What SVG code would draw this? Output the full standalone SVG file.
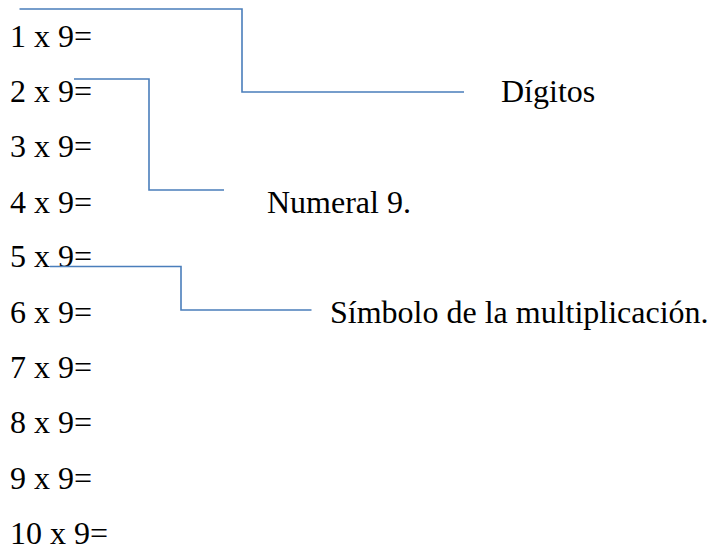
<svg xmlns="http://www.w3.org/2000/svg" width="713" height="547" viewBox="0 0 713 547">
<style>
text{font-family:"Liberation Serif","Times New Roman",serif;font-size:32px;fill:#000}
.c{fill:none;stroke:#4A7EBB;stroke-width:1.6}
</style>
<rect width="713" height="547" fill="#fff"/>
<g id="rows">
<text x="10" y="47">1 x 9=</text>
<text x="10" y="102">2 x 9=</text>
<text x="10" y="157">3 x 9=</text>
<text x="10" y="213">4 x 9=</text>
<text x="10" y="267">5 x 9=</text>
<text x="10" y="323">6 x 9=</text>
<text x="10" y="378">7 x 9=</text>
<text x="10" y="433">8 x 9=</text>
<text x="10" y="489">9 x 9=</text>
<text x="10" y="544">10 x 9=</text>
</g>
<g id="label-digitos"><text x="501" y="102">Dígitos</text></g>
<g id="label-numeral"><text x="267" y="213">Numeral 9.</text></g>
<g id="label-simbolo"><text x="330" y="323">Símbolo de la multiplicación.</text></g>
<g id="connectors">
<polyline class="c" points="19.5,9 242,9 242,92 464,92"/>
<polyline class="c" points="74,79 149,79 149,190 224,190"/>
<polyline class="c" points="50,266.5 181,266.5 181,310 311.5,310"/>
</g>
</svg>
